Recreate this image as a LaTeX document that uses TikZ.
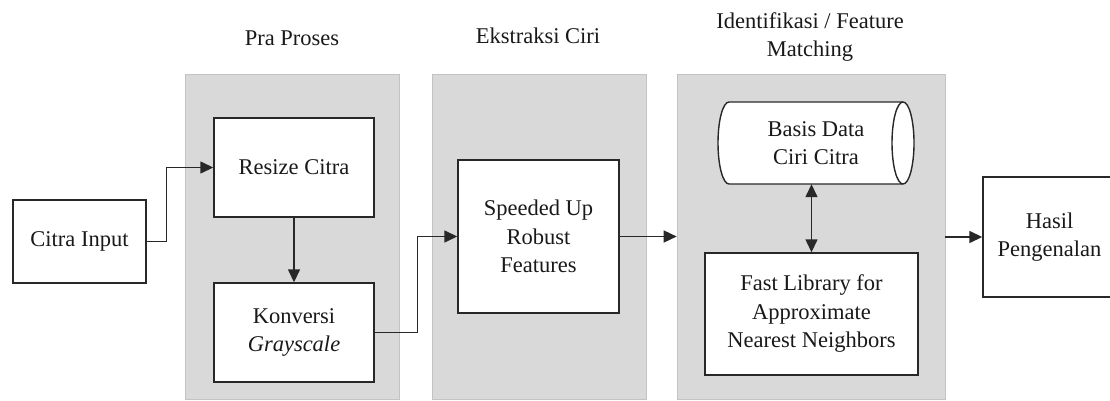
\documentclass[tikz,border=0pt]{standalone}
\usepackage{fontspec}
\setmainfont{Liberation Serif}
\usetikzlibrary{arrows.meta,calc}
\definecolor{panelgray}{RGB}{217,217,217}
\definecolor{linecol}{RGB}{40,40,40}
\begin{document}
\begin{tikzpicture}[x=1pt,y=-1pt,
  every node/.style={font=\fontsize{22.5}{28.5}\selectfont, text=black!90},
  panel/.style={fill=panelgray, draw=panelgray!90!black, line width=0.6pt, inner sep=0pt},
  box/.style={draw=linecol, fill=white, line width=1.4pt, align=center, inner sep=0pt},
  title/.style={align=center},
  arr/.style={draw=linecol, line width=1.4pt, -{Triangle[length=13pt,width=12pt]}},
  darr/.style={draw=linecol, line width=1.4pt, {Triangle[length=13pt,width=12pt]}-{Triangle[length=13pt,width=12pt]}}
]
\useasboundingbox (0,0) rectangle (1110,401);
\clip (0,0) rectangle (1110,401);

% panels
\node[panel, minimum width=214pt, minimum height=325pt] (p1) at (292,236.5) {};
\node[panel, minimum width=214pt, minimum height=325pt] (p2) at (539,236.5) {};
\node[panel, minimum width=268pt, minimum height=325pt] (p3) at (811,236.5) {};

% titles
\node[title] (t1) at (292,38) {Pra Proses};
\node[title] (t2) at (538,36) {Ekstraksi Ciri};
\node[title] (t3) at (810,37) {Identifikasi / Feature\\Matching};

% boxes
\node[box, minimum width=133pt, minimum height=83pt] (in) at (79.5,241.5) {Citra Input};
\node[box, minimum width=160pt, minimum height=99pt] (resize) at (294,167.5) {Resize Citra};
\node[box, minimum width=160pt, minimum height=99pt] (konv) at (294,332.5) {Konversi\\\textit{Grayscale}};
\node[box, minimum width=161pt, minimum height=153pt] (surf) at (538.5,236.5) {Speeded Up\\Robust\\Features};
\node[box, minimum width=213pt, minimum height=122pt] (flann) at (811.5,314) {Fast Library for\\Approximate\\Nearest Neighbors};
\node[box, minimum width=133pt, minimum height=120pt] (hasil) at (1049.5,237) {Hasil\\Pengenalan};

% database cylinder
\coordinate (dbc) at (816,143);
\draw[draw=linecol, fill=white, line width=1.4pt]
  ($(dbc)+(-87,-41)$) -- ($(dbc)+(87,-41)$)
  arc[start angle=90, end angle=-90, x radius=11, y radius=-41]
  -- ($(dbc)+(-87,41)$)
  arc[start angle=-90, end angle=-270, x radius=11, y radius=-41] -- cycle;
\draw[draw=linecol, line width=1.4pt]
  ($(dbc)+(87,-41)$) arc[start angle=90, end angle=270, x radius=11, y radius=-41];
\node[align=center, inner sep=0pt, minimum width=196pt, minimum height=82pt] (db) at (dbc) {Basis Data\\Ciri Citra};

% connectors
\draw[arr] (in.east) -- ++(20,0) |- (resize.west);
\draw[arr] (resize.south) -- (konv.north);
\draw[arr] (konv.east) -- ++(43,0) |- (surf.west);
\draw[arr] (surf.east) -- (surf.east -| p3.west);
\draw[darr] (flann.north |- db.south) -- (flann.north);
\draw[arr] (p3.east |- hasil.west) -- (hasil.west);
\end{tikzpicture}
\end{document}
